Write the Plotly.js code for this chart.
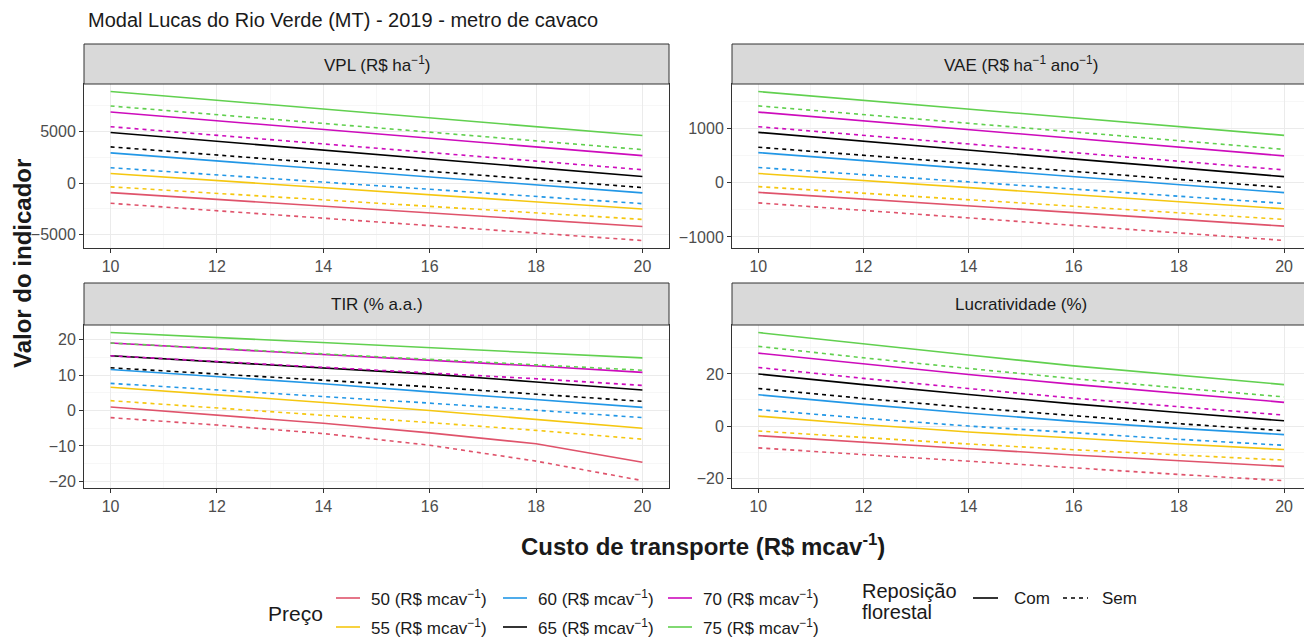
<!DOCTYPE html>
<html>
<head>
<meta charset="utf-8">
<script src="https://cdn.plot.ly/plotly-3.0.1.min.js"></script>
<style>html,body{margin:0;padding:0;background:#fff;}#chart{width:1304px;height:639px;}</style>
</head>
<body>
<div id="chart"></div>
<script>
// ---- data ----
const custo = [10, 12, 14, 16, 18, 20];
const precos = ['50', '55', '60', '65', '70', '75'];
const cores = ['#DF536B', '#F5C710', '#2297E6', '#000000', '#CD0BBC', '#61D04F'];
const reposicao = ['Com', 'Sem'];

// VPL (R$ ha-1), one row per price 50..75
const vplCom = [
  [-920, -1575, -2230, -2885, -3540, -4200],
  [940, 250, -440, -1130, -1820, -2510],
  [2930, 2155, 1380, 605, -170, -950],
  [4910, 4055, 3205, 2350, 1500, 645],
  [6895, 6050, 5200, 4355, 3510, 2665],
  [8890, 8035, 7180, 6330, 5475, 4620]
];
const vplSem = [
  [-1955, -2680, -3400, -4125, -4845, -5565],
  [-360, -990, -1620, -2255, -2885, -3515],
  [1495, 795, 100, -600, -1295, -1990],
  [3515, 2725, 1935, 1145, 360, -430],
  [5470, 4635, 3800, 2965, 2135, 1300],
  [7480, 6635, 5790, 4945, 4095, 3250]
];
// VAE (R$ ha-1 ano-1)
const vaeCom = [
  [-175, -300, -425, -550, -675, -800],
  [175, 45, -85, -215, -345, -480],
  [560, 410, 265, 115, -35, -180],
  [935, 770, 610, 445, 280, 115],
  [1310, 1150, 990, 825, 665, 500],
  [1690, 1530, 1365, 1205, 1040, 880]
];
const vaeSem = [
  [-370, -510, -650, -790, -930, -1065],
  [-70, -190, -310, -435, -555, -675],
  [285, 150, 20, -115, -245, -380],
  [660, 510, 360, 210, 65, -85],
  [1040, 880, 720, 560, 400, 240],
  [1425, 1265, 1100, 940, 780, 620]
];
// TIR (% a.a.)
const tirCom = [
  [1.0, -1.2, -3.6, -6.3, -9.4, -14.6],
  [6.6, 4.5, 2.3, 0.0, -2.4, -5.0],
  [11.6, 9.7, 7.6, 5.3, 3.1, 0.9],
  [15.5, 13.8, 12.1, 10.3, 8.1, 5.8],
  [19.1, 17.5, 15.9, 14.3, 12.6, 10.8],
  [22.1, 20.7, 19.3, 17.9, 16.4, 14.9]
];
const tirSem = [
  [-2.0, -4.1, -6.5, -9.8, -14.3, -19.8],
  [2.8, 0.8, -1.2, -3.4, -5.6, -8.1],
  [7.7, 5.9, 4.0, 2.1, 0.1, -2.0],
  [12.1, 10.4, 8.6, 6.7, 4.7, 2.6],
  [15.5, 13.9, 12.3, 10.7, 9.0, 7.1],
  [19.1, 17.6, 16.1, 14.6, 13.0, 11.4]
];
// Lucratividade (%)
const lucCom = [
  [-3.7, -6.3, -8.7, -11.1, -13.3, -15.5],
  [3.8, 0.6, -2.3, -4.7, -6.9, -9.0],
  [12.0, 8.3, 4.9, 1.8, -0.9, -3.3],
  [20.0, 15.9, 12.1, 8.5, 5.2, 2.0],
  [28.0, 23.8, 19.8, 16.0, 12.5, 9.1],
  [35.9, 31.5, 27.3, 23.1, 19.4, 15.9]
];
const lucSem = [
  [-8.4, -11.0, -13.6, -16.1, -18.6, -21.0],
  [-1.9, -4.5, -6.9, -9.1, -11.2, -13.1],
  [6.3, 3.0, 0.0, -2.6, -5.1, -7.4],
  [14.4, 10.6, 7.1, 3.9, 0.9, -1.8],
  [22.5, 18.3, 14.4, 10.7, 7.4, 4.2],
  [30.6, 26.2, 22.1, 18.2, 14.6, 11.2]
];
const paineis = ['VPL (R$ ha<sup>−1</sup>)', 'VAE (R$ ha<sup>−1</sup> ano<sup>−1</sup>)', 'TIR (% a.a.)', 'Lucratividade (%)'];

// ---- layout helpers ----
const W = 1304, H = 639;
const px = v => v / W;
const py = v => 1 - v / H;
const FONT = 'Liberation Sans';
const DASH = '4px,4px';

const dadosPaineis = [
  {com: vplCom, sem: vplSem, xa: 'x', ya: 'y'},
  {com: vaeCom, sem: vaeSem, xa: 'x2', ya: 'y2'},
  {com: tirCom, sem: tirSem, xa: 'x3', ya: 'y3'},
  {com: lucCom, sem: lucSem, xa: 'x4', ya: 'y4'}
];

const traces = [];
dadosPaineis.forEach(p => {
  precos.forEach((pr, i) => {
    [['com', 'solid'], ['sem', DASH]].forEach(([k, dash]) => {
      traces.push({
        x: custo, y: p[k][i], xaxis: p.xa, yaxis: p.ya,
        type: 'scatter', mode: 'lines', showlegend: false, hoverinfo: 'skip',
        line: {color: cores[i], width: 1.6, dash: dash}
      });
    });
  });
});

const tickfont = {family: FONT, size: 16, color: '#4d4d4d'};
function xax(domain, anchor, range) {
  return {
    domain, anchor, range, tickmode: 'array', tickvals: custo,
    ticks: 'outside', ticklen: 4, tickwidth: 1, tickcolor: '#333333',
    showline: true, linecolor: '#333333', linewidth: 1, mirror: true,
    showgrid: true, gridcolor: '#ebebeb', gridwidth: 1, zeroline: false,
    minor: {tickmode: 'array', tickvals: [11, 13, 15, 17, 19], showgrid: true, gridcolor: '#f2f2f2', gridwidth: 0.6},
    tickfont, fixedrange: true
  };
}
function yax(domain, anchor, range, major, minor, mirror) {
  return {
    domain, anchor, range, tickmode: 'array', tickvals: major,
    ticks: 'outside', ticklen: 4, tickwidth: 1, tickcolor: '#333333',
    showline: true, linecolor: '#333333', linewidth: 1, mirror: mirror,
    showgrid: true, gridcolor: '#ebebeb', gridwidth: 1, zeroline: false,
    minor: {tickmode: 'array', tickvals: minor, showgrid: true, gridcolor: '#f2f2f2', gridwidth: 0.6},
    tickfont, fixedrange: true
  };
}

const xL = [px(84), px(669)];
const xR = [px(732), 1];
const yT = [py(248), py(84)];
const yB = [py(488), py(325)];

const shapes = [];
const annotations = [];

// strips
const strips = [
  {x0: 84, x1: 669, y0: 44, y1: 84, t: paineis[0]},
  {x0: 732, x1: 1312, y0: 44, y1: 84, t: paineis[1]},
  {x0: 84, x1: 669, y0: 283, y1: 325, t: paineis[2]},
  {x0: 732, x1: 1312, y0: 283, y1: 325, t: paineis[3]}
];
strips.forEach(s => {
  shapes.push({type: 'rect', xref: 'paper', yref: 'paper', x0: px(s.x0), x1: px(s.x1), y0: py(s.y1), y1: py(s.y0),
    fillcolor: '#d9d9d9', line: {color: '#333333', width: 1}});
  const cx = s.x1 > W ? (s.x0 + 1310) / 2 : (s.x0 + s.x1) / 2;
  annotations.push({xref: 'paper', yref: 'paper', x: px(cx), y: py((s.y0 + s.y1) / 2), text: s.t, showarrow: false,
    xanchor: 'center', yanchor: 'middle', font: {family: FONT, size: 17, color: '#1a1a1a'}});
});

// titles
annotations.push({xref: 'paper', yref: 'paper', x: px(86), y: py(20), text: 'Modal Lucas do Rio Verde (MT) - 2019 - metro de cavaco',
  showarrow: false, xanchor: 'left', yanchor: 'middle', font: {family: FONT, size: 20, color: '#1a1a1a'}});
annotations.push({xref: 'paper', yref: 'paper', x: px(22), y: py(264), text: '<b>Valor do indicador</b>', textangle: -90,
  showarrow: false, xanchor: 'center', yanchor: 'middle', font: {family: FONT, size: 24, color: '#1a1a1a'}});
annotations.push({xref: 'paper', yref: 'paper', x: px(703), y: py(545), text: '<b>Custo de transporte (R$ mcav<sup>-1</sup>)</b>',
  showarrow: false, xanchor: 'center', yanchor: 'middle', font: {family: FONT, size: 24, color: '#1a1a1a'}});

// legend (Preço)
annotations.push({xref: 'paper', yref: 'paper', x: px(266), y: py(613), text: 'Preço', showarrow: false,
  xanchor: 'left', yanchor: 'middle', font: {family: FONT, size: 21, color: '#1a1a1a'}});
const colX = [336, 503, 668];
const rowY = [598, 627];
precos.forEach((pr, i) => {
  const c = Math.floor(i / 2), r = i % 2;
  shapes.push({type: 'line', xref: 'paper', yref: 'paper', x0: px(colX[c]), x1: px(colX[c] + 24), y0: py(rowY[r]), y1: py(rowY[r]),
    line: {color: cores[i], width: 1.6}});
  annotations.push({xref: 'paper', yref: 'paper', x: px(colX[c] + 33), y: py(rowY[r]), text: pr + ' (R$ mcav<sup>−1</sup>)',
    showarrow: false, xanchor: 'left', yanchor: 'middle', font: {family: FONT, size: 17, color: '#1a1a1a'}});
});
// legend (Reposição florestal)
annotations.push({xref: 'paper', yref: 'paper', x: px(860), y: py(591), text: 'Reposição', showarrow: false,
  xanchor: 'left', yanchor: 'middle', font: {family: FONT, size: 20, color: '#1a1a1a'}});
annotations.push({xref: 'paper', yref: 'paper', x: px(860), y: py(612), text: 'florestal', showarrow: false,
  xanchor: 'left', yanchor: 'middle', font: {family: FONT, size: 20, color: '#1a1a1a'}});
[[973, 'solid', reposicao[0], 1012], [1063, DASH, reposicao[1], 1100]].forEach(([x0, dash, t, tx]) => {
  shapes.push({type: 'line', xref: 'paper', yref: 'paper', x0: px(x0), x1: px(x0 + 25), y0: py(598), y1: py(598),
    line: {color: '#000000', width: 1.6, dash: dash}});
  annotations.push({xref: 'paper', yref: 'paper', x: px(tx), y: py(598), text: t, showarrow: false,
    xanchor: 'left', yanchor: 'middle', font: {family: FONT, size: 17, color: '#1a1a1a'}});
});

const layout = {
  width: W, height: H,
  margin: {l: 0, r: 0, t: 0, b: 0},
  paper_bgcolor: '#ffffff', plot_bgcolor: '#ffffff',
  showlegend: false,
  font: {family: FONT, color: '#1a1a1a'},
  xaxis: xax(xL, 'y', [9.5, 20.5]),
  yaxis: yax(yT, 'x', [-6290, 9610], [-5000, 0, 5000], [-2500, 2500, 7500], true),
  xaxis2: xax(xR, 'y2', [9.5, 20.38]),
  yaxis2: yax(yT, 'x2', [-1205, 1830], [-1000, 0, 1000], [-500, 500, 1500], false),
  xaxis3: xax(xL, 'y3', [9.5, 20.5]),
  yaxis3: yax(yB, 'x3', [-21.9, 24.2], [-20, -10, 0, 10, 20], [-15, -5, 5, 15], true),
  xaxis4: xax(xR, 'y4', [9.5, 20.38]),
  yaxis4: yax(yB, 'x4', [-23.8, 38.8], [-20, 0, 20], [-10, 10, 30], false),
  shapes, annotations
};

Plotly.newPlot('chart', traces, layout, {staticPlot: true, displayModeBar: false});
</script>
</body>
</html>
